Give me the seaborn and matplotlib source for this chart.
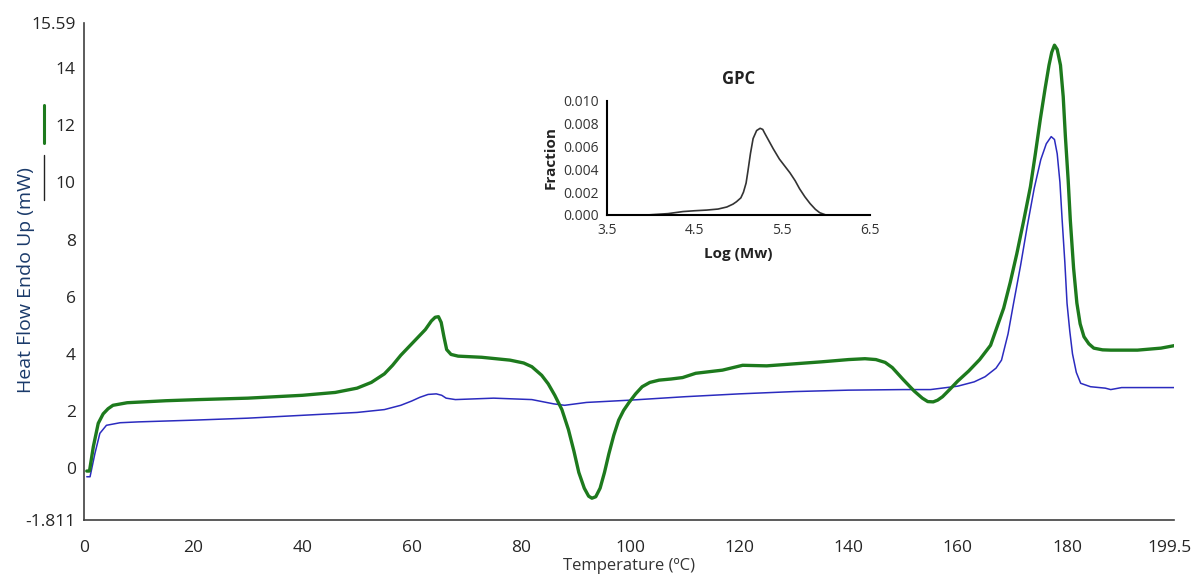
import matplotlib
matplotlib.use("Agg")
import matplotlib.pyplot as plt
import matplotlib.transforms as mtransforms
from matplotlib.lines import Line2D
import pandas as pd
import seaborn as sns

# DSC traces (temperature in degC, heat flow in mW)
temp_green = [0.5, 1.0, 1.7, 2.6, 3.5, 4.4, 5.3, 7.9, 15, 21, 30, 40, 46, 50, 52.6, 55,
              56.5, 58, 59.5, 61, 62.5, 63.6, 64.3, 64.9, 65.4, 65.9, 66.4, 67.2, 68.5,
              72.8, 78, 80.5, 82, 83.8, 85, 86.2, 87.5, 88.7, 89.7, 90.6, 91.6, 92.4, 93,
              93.7, 94.5, 95.3, 96.1, 97.0, 97.9, 98.8, 99.8, 101, 102.2, 103.6, 105.3,
              107.5, 109.6, 112, 116.9, 120.6, 125, 130, 135, 140, 143, 145, 146.7, 148,
              150, 152, 153.5, 154.5, 155.5, 156.3, 157.2, 158.5, 160, 162, 164, 166,
              168.4, 169.6, 170.8, 172, 173.3, 174.2, 175.1, 176, 176.7, 177.2, 177.7,
              178.2, 178.8, 179.3, 179.7, 180.2, 180.6, 181.2, 181.8, 182.4, 183.1,
              184.0, 184.9, 186.5, 188, 192.9, 197.2, 200]
flow_green = [-0.1, -0.1, 0.75, 1.57, 1.9, 2.08, 2.2, 2.29, 2.36, 2.4, 2.45, 2.55, 2.65,
              2.8, 3.0, 3.3, 3.6, 3.95, 4.25, 4.55, 4.85, 5.15, 5.28, 5.3, 5.1, 4.6, 4.15,
              3.98, 3.92, 3.88, 3.78, 3.68, 3.55, 3.25, 2.95, 2.55, 2.05, 1.35, 0.6,
              -0.15, -0.7, -0.98, -1.05, -1.0, -0.7, -0.15, 0.5, 1.15, 1.68, 2.02, 2.3,
              2.6, 2.85, 3.0, 3.08, 3.12, 3.17, 3.32, 3.43, 3.6, 3.58, 3.65, 3.72, 3.8,
              3.83, 3.8, 3.7, 3.52, 3.1, 2.7, 2.45, 2.33, 2.32, 2.38, 2.5, 2.75, 3.05,
              3.4, 3.8, 4.3, 5.6, 6.5, 7.5, 8.6, 9.85, 11.0, 12.2, 13.3, 14.1, 14.55,
              14.8, 14.65, 14.1, 13.0, 11.6, 10.1, 8.68, 7.0, 5.78, 5.05, 4.6, 4.35, 4.2,
              4.14, 4.13, 4.13, 4.2, 4.3]

temp_blue = [0.5, 1.1, 2.0, 2.9, 4.1, 6.6, 10, 20, 30, 40, 50, 55, 58, 60, 61.5, 63,
             64.5, 65.5, 66.3, 68, 75, 82, 86, 88, 92, 100, 110, 120, 130, 140, 150, 155,
             160, 163, 165, 167, 168, 169.2, 170.2, 171.5, 172.7, 174, 175.2, 176.2, 177.1,
             177.7, 178.2, 178.7, 179.1, 179.6, 180, 180.5, 181, 181.7, 182.5, 184.3,
             187, 188, 190, 195, 200]
flow_blue = [-0.3, -0.3, 0.52, 1.22, 1.5, 1.59, 1.62, 1.68, 1.75, 1.85, 1.95, 2.05, 2.2,
             2.35, 2.48, 2.58, 2.6, 2.55, 2.45, 2.4, 2.45, 2.4, 2.25, 2.2, 2.3, 2.38, 2.5,
             2.6, 2.68, 2.73, 2.75, 2.75, 2.87, 3.02, 3.2, 3.5, 3.78, 4.7, 5.76, 7.1,
             8.45, 9.8, 10.8, 11.35, 11.6, 11.5, 11.0, 10.0, 8.7, 7.2, 5.77, 4.8, 4.0,
             3.35, 2.97, 2.85, 2.8, 2.75, 2.82, 2.82, 2.82]

# GPC inset
log_mw = [3.96, 4.2, 4.37, 4.5, 4.64, 4.77, 4.87, 4.94, 4.98, 5.03, 5.06, 5.09, 5.11,
          5.14, 5.17, 5.21, 5.25, 5.28, 5.30, 5.35, 5.40, 5.47, 5.53, 5.59, 5.65, 5.70,
          5.76, 5.82, 5.88, 5.93, 6.0]
fraction = [0.0, 0.00012, 0.0003, 0.00037, 0.00043, 0.00052, 0.0007, 0.00095, 0.00116,
            0.0015, 0.002, 0.0028, 0.0038, 0.0054, 0.0067, 0.0074, 0.0076, 0.0075,
            0.0072, 0.0065, 0.0058, 0.0049, 0.0043, 0.0037, 0.003, 0.0023, 0.0016, 0.001,
            0.0005, 0.0002, 0.0]

x_ticks = [0, 20, 40, 60, 80, 100, 120, 140, 160, 180, 199.5]
y_ticks = [-1.811, 0, 2, 4, 6, 8, 10, 12, 14, 15.59]
gpc_xticks = [3.5, 4.5, 5.5, 6.5]
gpc_yticks = [0.0, 0.002, 0.004, 0.006, 0.008, 0.010]

sns.set_style("white")
plt.rcParams["font.family"] = ["Open Sans", "DejaVu Sans"]

green_df = pd.DataFrame({"T": temp_green, "Q": flow_green})
blue_df = pd.DataFrame({"T": temp_blue, "Q": flow_blue})
gpc_df = pd.DataFrame({"logMw": log_mw, "frac": fraction})

fig = plt.figure(figsize=(11.92, 5.79), dpi=100)
ax = fig.add_axes([0.0705, 0.102, 0.914, 0.859])

sns.lineplot(data=blue_df, x="T", y="Q", ax=ax, color="#2b2bbf", linewidth=1.1, sort=False)
sns.lineplot(data=green_df, x="T", y="Q", ax=ax, color="#1d7a1d", linewidth=2.4, sort=False)

ax.set_xlim(0, 199.5)
ax.set_ylim(-1.811, 15.59)
ax.set_xticks(x_ticks)
ax.set_xticklabels([f"{t:g}" for t in x_ticks], fontsize=12.5, color="#262626")
ax.set_yticks(y_ticks)
ax.set_yticklabels([f"{t:g}" for t in y_ticks], fontsize=12.5, color="#262626")
ax.tick_params(axis="both", direction="inout", length=5, width=1, color="#404040")
ax.tick_params(axis="x", pad=12)
# last tick label sits at the figure edge; nudge it in a little
last = ax.get_xticklabels()[-1]
last.set_transform(last.get_transform() +
                   mtransforms.ScaledTranslation(-4 / 100, 0, fig.dpi_scale_trans))
for side in ["top", "right"]:
    ax.spines[side].set_visible(False)
for side in ["left", "bottom"]:
    ax.spines[side].set_color("#404040")
    ax.spines[side].set_linewidth(1.2)
ax.set_xlabel("Temperature (ºC)", fontsize=12, color="#333333")
ax.xaxis.set_label_coords(0.5, -0.077)
ax.set_ylabel("Heat Flow Endo Up (mW)", fontsize=14, color="#1a3a6a")
ax.yaxis.set_label_coords(-0.045, 0.483)

# leftover legend marks next to the y axis
fig.add_artist(Line2D([44 / 1192, 44 / 1192], [1 - 105 / 579, 1 - 143 / 579],
                      color="#1d7a1d", linewidth=2.2))
fig.add_artist(Line2D([44 / 1192, 44 / 1192], [1 - 155 / 579, 1 - 200 / 579],
                      color="#222222", linewidth=1.0))

# GPC inset
ins = fig.add_axes([0.509, 0.6287, 0.2206, 0.197])
sns.lineplot(data=gpc_df, x="logMw", y="frac", ax=ins, color="#333333", linewidth=1.2)
ins.set_xlim(3.5, 6.5)
ins.set_ylim(0, 0.010)
ins.set_xticks(gpc_xticks)
ins.set_xticklabels([f"{t:g}" for t in gpc_xticks], fontsize=10, color="#333333")
ins.set_yticks(gpc_yticks)
ins.set_yticklabels([f"{t:.3f}" for t in gpc_yticks], fontsize=10, color="#333333")
ins.tick_params(axis="both", length=0, pad=6)
ins.set_facecolor("none")
for side in ["top", "right"]:
    ins.spines[side].set_visible(False)
for side in ["left", "bottom"]:
    ins.spines[side].set_color("black")
    ins.spines[side].set_linewidth(1.5)
ins.set_xlabel("Log (Mw)", fontsize=11, fontweight="bold", color="#222222", labelpad=6)
ins.set_ylabel("Fraction", fontsize=11, fontweight="bold", color="#222222", labelpad=4)
ins.set_title("GPC", fontsize=12, fontweight="bold", color="#222222", pad=12)

fig.savefig("out.png", dpi=100)
